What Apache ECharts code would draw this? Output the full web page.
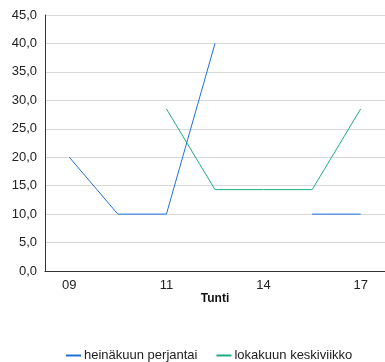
<!DOCTYPE html>
<html><head><meta charset="utf-8">
<script src="https://cdn.jsdelivr.net/npm/echarts@6/dist/echarts.min.js"></script>
<style>html,body{margin:0;padding:0;background:#fff}#c{width:385px;height:362px}</style>
</head><body><div id="c"></div>
<script>
var categories = ['09', '10', '11', '12', '14', '16', '17'];
var heinakuu = [20, 10, 10, 40, null, 10, 10];
var lokakuu = [null, null, 28.5, 14.3, 14.3, 14.3, 28.5];
var yTicks = [0, 5, 10, 15, 20, 25, 30, 35, 40, 45];

var chart = echarts.init(document.getElementById('c'));
chart.setOption({
  animation: false,
  textStyle: {fontFamily: 'Liberation Sans, Arial, sans-serif'},
  grid: {left: 45, right: -1, top: 15, bottom: 91},
  legend: {
    bottom: -5, left: 61, itemWidth: 15, itemHeight: 2, itemGap: 19,
    icon: 'rect',
    textStyle: {fontSize: 13, color: '#222', fontFamily: 'Liberation Sans, Arial, sans-serif', padding: [0, 0, 0, -2]},
    data: ['heinäkuun perjantai', 'lokakuun keskiviikko']
  },
  xAxis: {
    type: 'category', data: categories, boundaryGap: true,
    name: 'Tunti', nameLocation: 'middle', nameGap: 22, nameMoveOverlap: false,
    nameTextStyle: {fontWeight: 'bold', fontSize: 12, color: '#111'},
    axisLine: {lineStyle: {color: '#333', width: 1}},
    axisTick: {show: false},
    axisLabel: {interval: 1, color: '#222', fontSize: 13, margin: 8}
  },
  yAxis: {
    type: 'value', min: yTicks[0], max: yTicks[yTicks.length - 1], interval: 5,
    axisLine: {show: true, lineStyle: {color: '#333', width: 1}},
    axisTick: {show: false},
    splitLine: {lineStyle: {color: '#d8d8d8', width: 1}},
    axisLabel: {color: '#222', fontSize: 13, margin: 8,
      formatter: function (v) { return v.toFixed(1).replace('.', ','); }}
  },
  series: [
    {name: 'heinäkuun perjantai', type: 'line', data: heinakuu, showSymbol: false,
     symbol: 'none', connectNulls: false, color: '#1f70d6', lineStyle: {width: 1, color: '#1f70d6'}},
    {name: 'lokakuun keskiviikko', type: 'line', data: lokakuu, showSymbol: false,
     symbol: 'none', connectNulls: false, color: '#1fab7f', lineStyle: {width: 1, color: '#1fab7f'}}
  ]
});
</script></body></html>
